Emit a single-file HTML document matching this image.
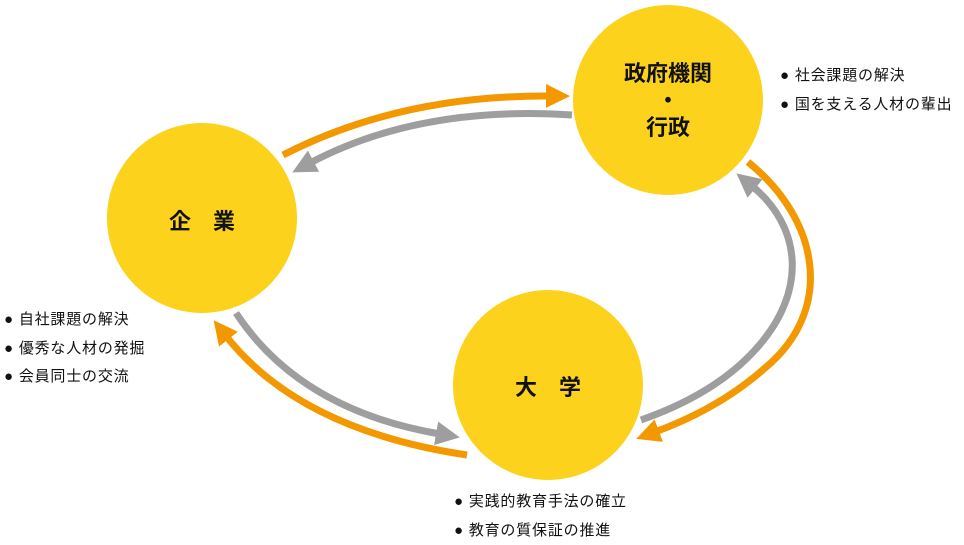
<!DOCTYPE html>
<html><head><meta charset="utf-8"><style>
body{margin:0;width:964px;height:540px;background:#fff;overflow:hidden;font-family:"Liberation Sans","Noto Sans CJK JP",sans-serif;}
.t{position:absolute;font-size:15px;color:#111;line-height:28.5px;white-space:nowrap;letter-spacing:0.8px}
.h{position:absolute;font-weight:bold;font-size:22px;color:#111;text-align:center}
</style></head><body>
<svg width="964" height="540" style="position:absolute;left:0;top:0">
<defs>
<marker id="o" markerUnits="userSpaceOnUse" markerWidth="30" markerHeight="30" refX="4" refY="12" orient="auto"><path d="M0,0 L24,12 L0,24 Z" fill="#f39800"/></marker>
<marker id="g" markerUnits="userSpaceOnUse" markerWidth="30" markerHeight="30" refX="4" refY="12" orient="auto"><path d="M0,0 L24,12 L0,24 Z" fill="#9e9e9e"/></marker>
</defs>
<circle cx="202" cy="218" r="95" fill="#fcd21c"/>
<circle cx="668" cy="100" r="95" fill="#fcd21c"/>
<circle cx="548" cy="385" r="95" fill="#fcd21c"/>
<g fill="none" stroke-width="7">
<path d="M283,155 Q400,95 550,96" stroke="#f39800" marker-end="url(#o)"/>
<path d="M572,115 Q420,105 310,163" stroke="#9e9e9e" marker-end="url(#g)"/>
<path d="M748,162 C820,220 835,310 765,368 Q720,408 655,432" stroke="#f39800" marker-end="url(#o)"/>
<path d="M641,420 Q715,394 755,350 C810,290 800,225 752,186" stroke="#9e9e9e" marker-end="url(#g)"/>
<path d="M236,313 Q300,410 440,434" stroke="#9e9e9e" marker-end="url(#g)"/>
<path d="M467,455 Q300,430 226,336" stroke="#f39800" marker-end="url(#o)"/>
</g>
</svg>
<div class="h" style="left:142px;top:204px;width:120px">企　業</div>
<div class="h" style="left:598px;top:60px;width:140px;line-height:27px">政府機関<br>・<br>行政</div>
<div class="h" style="left:488px;top:370px;width:120px">大　学</div>
<div class="t" style="left:4px;top:306px">● 自社課題の解決<br>● 優秀な人材の発掘<br>● 会員同士の交流</div>
<div class="t" style="left:780px;top:62px">● 社会課題の解決<br>● 国を支える人材の輩出</div>
<div class="t" style="left:454px;top:488px">● 実践的教育手法の確立<br>● 教育の質保証の推進</div>
</body></html>
